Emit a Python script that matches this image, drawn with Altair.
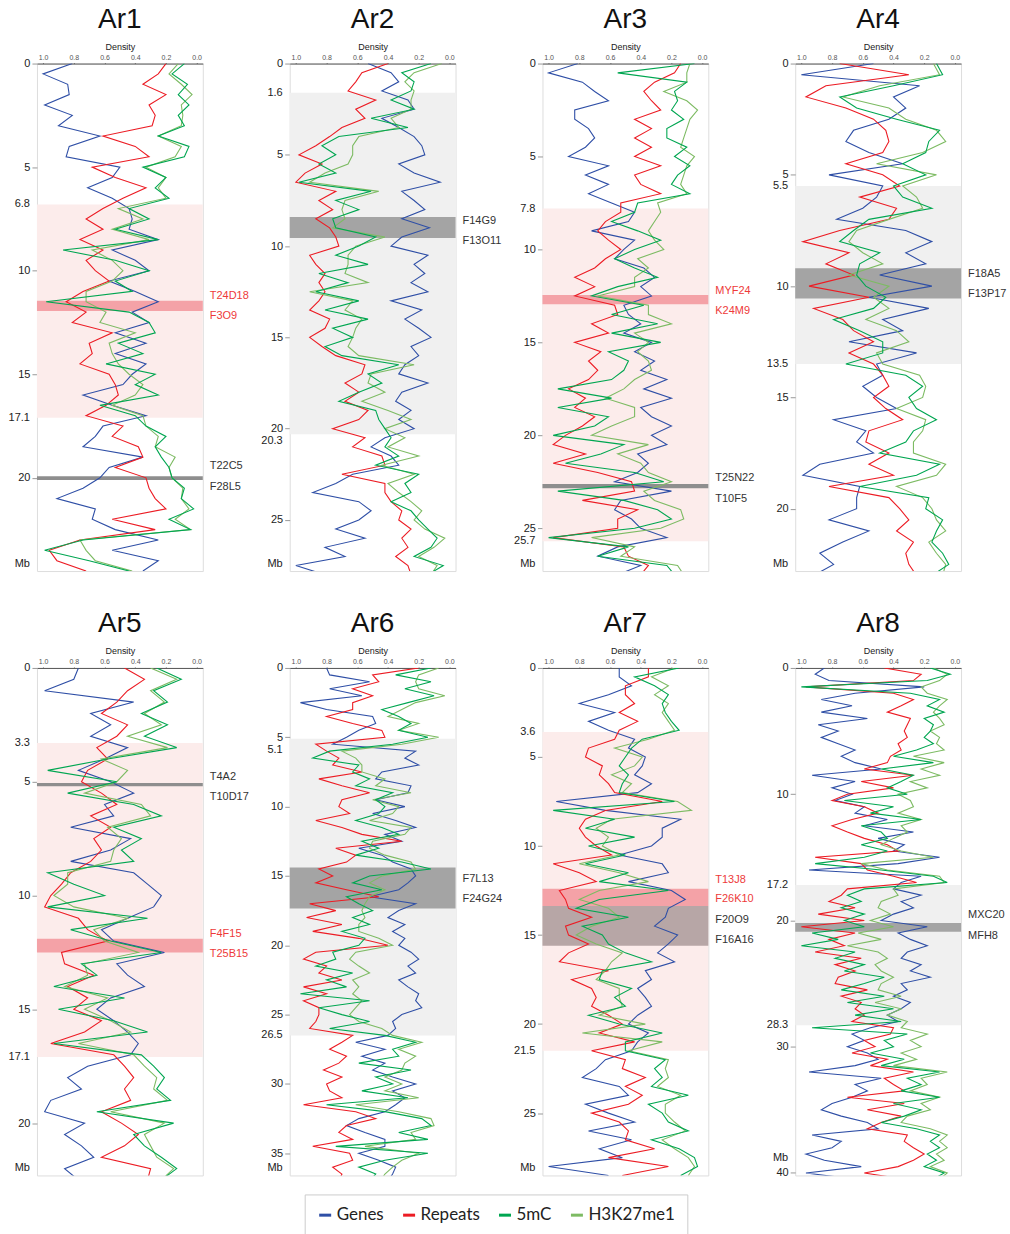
import altair as alt
import pandas as pd

SERIES = ["Genes", "Repeats", "5mC", "H3K27me1"]
COLORS = ["#2F4FA6", "#EC1C24", "#00A651", "#7DBB63"]
DRAW_ORDER = ["Genes", "Repeats", "H3K27me1", "5mC"]
STEP = 0.5  # Mb between successive density values

PINK = "#FCECEB"
LGREY = "#F0F0F0"
REDBAND = "#F4A2A7"
DGREY = "#A4A4A4"
GLINE = "#8E8E8E"
BROWN = "#B7A6A6"
RTXT = "#EE3A3A"
KTXT = "#333333"

# ---------------- Ar1 ----------------
G1 = [0.81,1.0,0.84,0.83,0.99,0.81,0.90,0.63,0.83,0.85, 0.50,0.55,0.71,0.55,0.44,0.42,0.44,0.25,0.55,0.40,
      0.31,0.57,0.40,0.25,0.42,0.31,0.53,0.33,0.53,0.33, 0.42,0.48,0.74,0.55,0.33,0.61,0.66,0.74,0.35,0.57,
      0.63,0.74,0.91,0.66,0.68,0.53,0.25,0.55,0.25,0.35]
R1 = [0.20,0.25,0.35,0.20,0.31,0.27,0.29,0.61,0.40,0.31, 0.68,0.53,0.33,0.48,0.61,0.72,0.61,0.76,0.61,0.72,
      0.66,0.57,0.74,0.85,0.72,0.81,0.55,0.70,0.68,0.76, 0.57,0.53,0.51,0.59,0.72,0.48,0.55,0.38,0.35,0.53,
      0.33,0.31,0.27,0.20,0.55,0.27,0.76,0.96,0.91,0.72]
C1 = [0.08,0.16,0.06,0.12,0.05,0.12,0.08,0.25,0.05,0.08, 0.35,0.20,0.27,0.18,0.44,0.31,0.53,0.25,0.87,0.53,
      0.31,0.53,0.42,0.98,0.44,0.31,0.27,0.51,0.35,0.59, 0.27,0.40,0.25,0.63,0.40,0.33,0.20,0.27,0.23,0.18,
      0.16,0.08,0.10,0.02,0.18,0.04,0.74,0.99,0.70,0.44]
K1 = [0.12,0.18,0.10,0.03,0.10,0.09,0.10,0.25,0.10,0.14, 0.33,0.20,0.25,0.20,0.51,0.35,0.55,0.31,0.68,0.55,
      0.48,0.55,0.72,0.72,0.59,0.63,0.40,0.57,0.55,0.51, 0.44,0.35,0.40,0.55,0.35,0.33,0.25,0.27,0.14,0.18,
      0.16,0.09,0.10,0.05,0.14,0.04,0.76,0.72,0.66,0.42]

# ---------------- Ar2 ----------------
G2 = [0.53,0.38,0.33,0.44,0.27,0.23,0.44,0.33,0.23,0.18, 0.16,0.33,0.23,0.06,0.31,0.23,0.16,0.31,0.13,0.31,
      0.38,0.14,0.23,0.16,0.25,0.14,0.38,0.18,0.29,0.20, 0.12,0.25,0.20,0.29,0.33,0.14,0.31,0.35,0.25,0.33,
      0.23,0.42,0.51,0.38,0.33,0.63,0.74,0.89,0.59,0.51, 0.59,0.74,0.55,0.81,0.68,1.0,0.81]
R2 = [0.40,0.57,0.61,0.66,0.48,0.61,0.55,0.70,0.78,0.87, 0.98,0.83,0.94,1.0,0.74,0.85,0.76,0.87,0.78,0.74,
      0.72,0.91,0.87,0.81,0.85,0.81,0.85,0.91,0.78,0.81, 0.91,0.83,0.74,0.55,0.57,0.68,0.59,0.68,0.53,0.59,
      0.76,0.55,0.63,0.44,0.42,0.70,0.42,0.42,0.38,0.31, 0.33,0.25,0.31,0.27,0.35,0.27,0.25]
C2 = [0.12,0.31,0.23,0.25,0.38,0.23,0.51,0.27,0.72,0.83, 0.74,0.85,0.74,0.98,0.51,0.74,0.59,0.76,0.74,0.48,
      0.59,0.74,0.53,0.85,0.66,0.87,0.59,0.81,0.53,0.76, 0.63,0.81,0.70,0.33,0.53,0.44,0.59,0.72,0.48,0.46,
      0.42,0.38,0.42,0.33,0.48,0.20,0.29,0.25,0.38,0.25, 0.20,0.14,0.08,0.12,0.23,0.04,0.14]
K2 = [0.05,0.23,0.29,0.23,0.25,0.25,0.38,0.33,0.59,0.63, 0.63,0.66,0.81,0.91,0.46,0.68,0.70,0.68,0.76,0.42,
      0.61,0.66,0.66,0.68,0.53,0.91,0.63,0.68,0.57,0.61, 0.63,0.66,0.59,0.23,0.51,0.53,0.42,0.57,0.40,0.25,
      0.42,0.29,0.40,0.20,0.44,0.23,0.40,0.33,0.25,0.18, 0.23,0.16,0.03,0.10,0.20,0.08,0.12]

# ---------------- Ar3 ----------------
G3 = [0.81,1.0,0.78,0.70,0.61,0.83,0.83,0.74,0.70,0.76, 0.87,0.61,0.76,0.61,0.74,0.59,0.44,0.48,0.72,0.44,
      0.51,0.57,0.38,0.31,0.40,0.33,0.51,0.48,0.40,0.51, 0.33,0.44,0.31,0.40,0.23,0.38,0.20,0.40,0.33,0.20,
      0.33,0.23,0.42,0.35,0.42,0.57,0.20,0.53,0.57,0.46, 0.40,0.23,0.55,0.68,0.40,0.55]
R3 = [0.14,0.18,0.31,0.38,0.33,0.27,0.44,0.33,0.44,0.33, 0.44,0.27,0.44,0.40,0.27,0.53,0.53,0.63,0.68,0.61,
      0.53,0.63,0.70,0.83,0.70,0.83,0.57,0.55,0.72,0.61, 0.83,0.66,0.74,0.68,0.74,0.87,0.76,0.83,0.70,0.78,
      0.89,0.97,0.76,0.97,0.68,0.46,0.44,0.78,0.42,0.55, 0.55,0.97,0.51,0.48,0.35,0.40]
C3 = [0.05,0.55,0.10,0.18,0.16,0.20,0.12,0.23,0.23,0.10, 0.18,0.08,0.16,0.20,0.08,0.42,0.44,0.59,0.42,0.27,
      0.44,0.57,0.44,0.29,0.55,0.72,0.38,0.59,0.29,0.59, 0.27,0.61,0.48,0.51,0.59,0.94,0.59,0.94,0.61,0.70,
      0.97,0.51,0.66,0.89,0.44,0.25,0.94,0.51,0.29,0.20, 0.44,1.0,0.48,0.68,0.23,0.18]
K3 = [0.08,0.10,0.10,0.25,0.10,0.03,0.08,0.10,0.12,0.14, 0.05,0.10,0.12,0.14,0.10,0.29,0.27,0.31,0.35,0.31,
      0.25,0.42,0.35,0.44,0.44,0.68,0.35,0.35,0.20,0.44, 0.35,0.42,0.35,0.33,0.44,0.51,0.63,0.44,0.44,0.59,
      0.72,0.35,0.55,0.40,0.35,0.20,0.38,0.31,0.14,0.12, 0.27,0.72,0.44,0.53,0.16,0.12]

# ---------------- Ar4 ----------------
G4 = [0.53,1.0,0.23,0.40,0.32,0.43,0.66,0.71,0.56,0.34, 0.82,0.47,0.51,0.60,0.77,0.32,0.15,0.32,0.19,0.49,
      0.15,0.56,0.17,0.47,0.34,0.69,0.25,0.51,0.47,0.60, 0.51,0.38,0.79,0.58,0.64,0.53,0.88,0.99,0.62,0.64,
      0.64,0.82,0.56,0.73,0.88,0.79,0.92]
R4 = [0.75,0.30,0.84,0.97,0.71,0.53,0.45,0.43,0.47,0.71, 0.47,0.36,0.62,0.38,0.43,0.75,0.99,0.69,0.84,0.66,
      0.95,0.56,0.92,0.73,0.66,0.53,0.69,0.53,0.47,0.43, 0.53,0.45,0.34,0.56,0.58,0.43,0.56,0.40,0.82,0.43,
      0.36,0.30,0.38,0.27,0.32,0.30,0.25]
C4 = [0.12,0.08,0.40,0.75,0.64,0.38,0.10,0.17,0.19,0.34, 0.19,0.40,0.34,0.15,0.56,0.66,0.75,0.49,0.62,0.64,
      0.58,0.45,0.53,0.79,0.62,0.47,0.47,0.71,0.32,0.21, 0.30,0.25,0.12,0.27,0.32,0.49,0.10,0.25,0.62,0.17,
      0.19,0.08,0.12,0.15,0.08,0.04,0.15]
K4 = [0.14,0.10,0.49,0.73,0.43,0.32,0.12,0.06,0.21,0.51, 0.12,0.34,0.25,0.21,0.43,0.64,0.69,0.60,0.47,0.69,
      0.43,0.53,0.43,0.58,0.38,0.30,0.51,0.47,0.23,0.19, 0.21,0.38,0.19,0.21,0.27,0.27,0.06,0.12,0.38,0.21,
      0.15,0.12,0.06,0.17,0.12,0.06,0.08]

# ---------------- Ar5 ----------------
G5 = [0.77,0.80,0.99,0.41,0.69,0.56,0.69,0.45,0.60,0.77, 0.56,0.41,0.60,0.54,0.82,0.43,0.56,0.82,0.41,0.32,
      0.23,0.28,0.45,0.62,0.54,0.21,0.52,0.45,0.34,0.56, 0.65,0.54,0.45,0.38,0.43,0.71,0.84,0.75,0.95,0.99,
      0.73,0.86,0.75,0.67,0.86,0.77]
R5 = [0.47,0.34,0.45,0.52,0.62,0.45,0.52,0.65,0.58,0.71, 0.75,0.62,0.52,0.69,0.56,0.67,0.62,0.69,0.82,0.88,
      0.95,0.99,0.77,0.71,0.58,0.88,0.86,0.67,0.84,0.71, 0.80,0.62,0.73,0.95,0.54,0.47,0.41,0.47,0.43,0.62,
      0.49,0.38,0.47,0.62,0.30,0.32]
C5 = [0.26,0.10,0.28,0.19,0.36,0.19,0.34,0.13,0.58,0.97, 0.52,0.84,0.41,0.23,0.54,0.36,0.49,0.41,0.97,0.80,
      0.60,0.97,0.32,0.82,0.56,0.23,0.75,0.65,0.93,0.47, 0.90,0.54,0.32,0.93,0.36,0.28,0.21,0.26,0.17,0.65,
      0.15,0.41,0.34,0.23,0.13,0.23]
K5 = [0.30,0.13,0.30,0.21,0.34,0.23,0.45,0.19,0.62,0.45, 0.52,0.73,0.36,0.30,0.58,0.49,0.54,0.56,0.84,0.84,
      0.93,0.80,0.45,0.67,0.60,0.38,0.73,0.71,0.86,0.58, 0.73,0.56,0.43,0.77,0.41,0.34,0.26,0.28,0.19,0.56,
      0.21,0.34,0.30,0.26,0.15,0.23]

# ---------------- Ar6 ----------------
G6 = [0.80,0.78,0.52,0.78,0.57,0.97,0.80,0.50,0.48,0.59, 0.67,0.76,0.22,0.29,0.20,0.44,0.48,0.25,0.27,0.48,
      0.29,0.50,0.35,0.22,0.42,0.31,0.59,0.44,0.37,0.25, 0.22,0.27,0.33,0.52,0.22,0.33,0.40,0.29,0.37,0.29,
      0.33,0.25,0.20,0.27,0.22,0.33,0.27,0.20,0.22,0.18, 0.31,0.37,0.35,0.40,0.61,0.42,0.57,0.42,0.50,0.37,
      0.22,0.37,0.29,0.35,0.42,0.59,0.67,0.55,0.42,0.42, 0.59,0.46,0.35,0.37,0.40]
R6 = [0.20,0.50,0.46,0.63,0.50,0.63,0.63,0.80,0.63,0.44, 0.42,0.87,0.80,0.72,0.76,0.57,0.85,0.70,0.52,0.70,
      0.72,0.65,0.87,0.70,0.57,0.31,0.74,0.61,0.67,0.85, 0.76,0.87,0.67,0.46,0.91,0.74,0.93,0.70,0.89,0.59,
      0.40,0.87,0.95,0.80,0.85,0.70,0.95,0.80,0.95,0.85, 0.85,0.87,0.91,0.63,0.70,0.78,0.67,0.72,0.82,0.70,
      0.80,0.78,0.70,0.95,0.61,0.48,0.67,0.72,0.63,0.89, 0.65,0.63,0.76,0.70,0.72]
C6 = [0.12,0.35,0.12,0.29,0.10,0.27,0.44,0.33,0.25,0.33, 0.14,0.37,0.78,0.89,0.59,0.63,0.52,0.61,0.37,0.48,
      0.42,0.46,0.61,0.44,0.33,0.57,0.46,0.61,0.31,0.12, 0.52,0.63,0.44,0.67,0.59,0.50,0.63,0.52,0.70,0.55,
      0.59,0.76,0.74,0.87,0.63,0.80,0.67,0.97,0.52,0.85, 0.70,0.52,0.78,0.42,0.22,0.37,0.33,0.59,0.25,0.48,
      0.37,0.57,0.27,0.80,0.42,0.18,0.12,0.33,0.14,0.74, 0.14,0.42,0.59,0.48,0.52]
K6 = [0.07,0.20,0.22,0.20,0.03,0.22,0.31,0.40,0.20,0.33, 0.07,0.31,0.70,0.61,0.57,0.57,0.42,0.48,0.25,0.50,
      0.33,0.37,0.52,0.25,0.29,0.50,0.52,0.42,0.25,0.22, 0.44,0.52,0.42,0.52,0.55,0.57,0.55,0.59,0.59,0.46,
      0.37,0.61,0.65,0.59,0.52,0.63,0.59,0.63,0.57,0.61, 0.65,0.59,0.44,0.37,0.18,0.33,0.22,0.29,0.31,0.42,
      0.31,0.42,0.20,0.61,0.33,0.12,0.10,0.25,0.22,0.55, 0.20,0.31,0.37,0.42,0.45]

# ---------------- Ar7 ----------------
G7 = [0.54,0.54,0.46,0.61,0.80,0.57,0.74,0.61,0.44,0.48, 0.37,0.39,0.44,0.33,0.42,0.95,0.63,0.14,0.26,0.26,
      0.33,0.54,0.26,0.22,0.48,0.20,0.11,0.22,0.24,0.31, 0.16,0.22,0.29,0.18,0.37,0.33,0.42,0.37,0.33,0.42,
      0.48,0.35,0.42,0.46,0.63,0.69,0.78,0.54,0.48,0.76, 0.61,0.44,0.74,0.46,0.67,0.52,1.0,0.61]
R7 = [0.35,0.35,0.50,0.50,0.44,0.54,0.42,0.54,0.57,0.74, 0.76,0.65,0.67,0.61,0.57,0.26,0.63,0.76,0.80,0.76,
      0.69,0.59,0.97,0.80,0.69,0.93,0.89,0.87,0.72,0.89, 0.87,0.74,0.87,0.93,0.61,0.85,0.72,0.69,0.72,0.61,
      0.52,0.67,0.44,0.72,0.50,0.52,0.37,0.50,0.39,0.48, 0.72,0.54,0.48,0.50,0.31,0.61,0.22,0.52]
C7 = [0.15,0.44,0.31,0.22,0.26,0.24,0.20,0.15,0.39,0.46, 0.50,0.54,0.48,0.52,0.54,0.18,0.97,0.57,0.76,0.44,
      0.74,0.50,0.76,0.48,0.67,0.22,0.67,0.82,0.48,0.78, 0.65,0.61,0.50,0.33,0.65,0.67,0.46,0.57,0.50,0.74,
      0.54,0.26,0.50,0.50,0.24,0.31,0.26,0.33,0.09,0.35, 0.26,0.22,0.09,0.33,0.15,0.05,0.03,0.14]
K7 = [0.18,0.33,0.22,0.31,0.22,0.26,0.22,0.18,0.35,0.57, 0.39,0.44,0.59,0.46,0.52,0.16,0.07,0.59,0.69,0.61,
      0.65,0.54,0.80,0.54,0.35,0.67,0.80,0.61,0.54,0.72, 0.82,0.69,0.52,0.59,0.63,0.69,0.54,0.54,0.52,0.67,
      0.37,0.78,0.26,0.48,0.22,0.24,0.22,0.29,0.14,0.24, 0.24,0.18,0.11,0.26,0.18,0.09,0.05,0.09]

# ---------------- Ar8 ----------------
G8 = [0.85,0.91,0.82,0.20,0.65,0.87,0.67,0.87,0.57,0.89, 0.76,0.87,0.76,0.65,0.74,0.65,0.48,0.93,0.65,0.80,
      0.67,0.78,0.59,0.65,0.44,0.59,0.27,0.50,0.33,0.40, 0.10,0.37,0.95,0.22,0.35,0.40,0.22,0.35,0.27,0.40,
      0.48,0.18,0.37,0.29,0.18,0.31,0.35,0.22,0.29,0.16, 0.35,0.31,0.40,0.29,0.35,0.44,0.37,0.55,0.67,0.59,
      0.70,0.57,0.50,0.65,0.95,0.48,0.65,0.57,0.67,0.80, 0.87,0.74,0.57,0.50,0.93,0.74,0.80,0.97,0.85,0.61,
      0.97,0.65]
R8 = [0.46,0.22,0.27,0.97,0.40,0.27,0.35,0.44,0.29,0.31, 0.33,0.31,0.37,0.35,0.42,0.44,0.59,0.27,0.61,0.40,
      0.70,0.80,0.59,0.50,0.67,0.80,0.70,0.59,0.44,0.37, 0.91,0.61,0.57,0.40,0.25,0.70,0.74,0.82,0.65,0.89,
      0.59,1.0,0.65,0.82,0.72,0.91,0.61,0.78,0.65,0.76, 0.78,0.57,0.74,0.61,0.65,0.59,0.67,0.40,0.42,0.59,
      0.52,0.67,0.44,0.55,0.27,0.46,0.40,0.33,0.70,0.33, 0.57,0.35,0.48,0.57,0.31,0.33,0.27,0.20,0.27,0.37,
      0.59,0.33]
C8 = [0.16,0.03,0.18,1.0,0.29,0.10,0.18,0.07,0.20,0.14, 0.16,0.20,0.14,0.25,0.40,0.14,0.48,0.27,0.35,0.44,
      0.31,0.72,0.40,0.55,0.22,0.61,0.48,0.44,0.61,0.44, 0.59,0.91,0.48,0.14,0.05,0.59,0.70,0.61,0.74,0.59,
      0.72,0.59,0.93,0.76,1.0,0.65,0.78,0.59,0.72,0.46, 0.59,0.74,0.46,0.70,0.40,0.65,0.35,0.93,0.31,0.46,
      0.40,0.55,0.33,0.48,0.10,0.31,0.22,0.35,0.10,0.40, 0.22,0.33,0.48,0.25,0.10,0.16,0.10,0.18,0.12,0.20,
      0.07,0.14]
K8 = [0.14,0.05,0.10,0.22,0.18,0.05,0.10,0.14,0.10,0.07, 0.16,0.10,0.12,0.07,0.27,0.07,0.22,0.10,0.29,0.18,
      0.37,0.29,0.27,0.37,0.22,0.35,0.31,0.40,0.48,0.35, 0.14,0.61,0.44,0.10,0.07,0.40,0.37,0.48,0.50,0.42,
      0.55,0.40,0.63,0.48,0.70,0.50,0.44,0.52,0.48,0.40, 0.48,0.50,0.35,0.52,0.35,0.44,0.31,0.35,0.18,0.29,
      0.22,0.35,0.25,0.40,0.05,0.22,0.18,0.29,0.10,0.22, 0.16,0.31,0.35,0.16,0.05,0.10,0.05,0.12,0.07,0.16,
      0.05,0.10]

# chromosome lengths (Mb), axis ticks, boundary labels (value, pixel nudge)
NAMES = ["Ar1", "Ar2", "Ar3", "Ar4", "Ar5", "Ar6", "Ar7", "Ar8"]
YMAX = [24.5, 27.8, 27.3, 22.8, 22.3, 36.6, 28.5, 40.2]
MAJORS = [[0, 5, 10, 15, 20], [0, 5, 10, 15, 20, 25], [0, 5, 10, 15, 20, 25], [0, 5, 10, 15, 20],
          [0, 5, 10, 15, 20], [0, 5, 10, 15, 20, 25, 30, 35], [0, 5, 10, 15, 20, 25], [0, 10, 20, 30, 40]]
BOUNDS = [[(6.8, 0), (17.1, 0)], [(1.6, 0), (20.3, 7)], [(7.8, 0), (25.7, 0)], [(5.5, 0), (13.5, 0)],
          [(3.3, 0), (17.1, 0)], [(5.1, 11), (26.5, 0)], [(3.6, 0), (21.5, 0)], [(17.2, 0), (28.3, 0)]]
MB_OFF = [7, 7, 7, 7, 7, 7, 7, 17]
REGIONS = [
    [(6.8, 17.1, PINK), (11.45, 11.95, REDBAND), (19.92, 20.1, GLINE)],
    [(1.6, 20.3, LGREY), (8.4, 9.55, DGREY)],
    [(7.8, 25.7, PINK), (12.45, 12.95, REDBAND), (22.62, 22.85, GLINE)],
    [(5.5, 13.5, LGREY), (9.2, 10.55, DGREY)],
    [(3.3, 17.1, PINK), (5.06, 5.2, GLINE), (11.9, 12.5, REDBAND)],
    [(5.1, 26.5, LGREY), (14.4, 17.35, DGREY)],
    [(3.6, 21.5, PINK), (12.4, 13.37, REDBAND), (13.37, 15.6, BROWN)],
    [(17.2, 28.3, LGREY), (20.2, 20.9, DGREY)],
]
BACS = [
    [(11.2, "T24D18", RTXT), (12.2, "F3O9", RTXT), (19.45, "T22C5", KTXT), (20.45, "F28L5", KTXT)],
    [(8.6, "F14G9", KTXT), (9.7, "F13O11", KTXT)],
    [(12.25, "MYF24", RTXT), (13.3, "K24M9", RTXT), (22.3, "T25N22", KTXT), (23.4, "T10F5", KTXT)],
    [(9.45, "F18A5", KTXT), (10.35, "F13P17", KTXT)],
    [(4.8, "T4A2", KTXT), (5.65, "T10D17", KTXT), (11.7, "F4F15", RTXT), (12.55, "T25B15", RTXT)],
    [(15.2, "F7L13", KTXT), (16.65, "F24G24", KTXT)],
    [(11.9, "T13J8", RTXT), (13.0, "F26K10", RTXT), (14.15, "F20O9", KTXT), (15.3, "F16A16", KTXT)],
    [(19.6, "MXC20", KTXT), (21.2, "MFH8", KTXT)],
]
TRACKS = [(G1, R1, C1, K1), (G2, R2, C2, K2), (G3, R3, C3, K3), (G4, R4, C4, K4),
          (G5, R5, C5, K5), (G6, R6, C6, K6), (G7, R7, C7, K7), (G8, R8, C8, K8)]

W, H = 166, 508
FONT = "Liberation Sans"


def fmt(v):
    return str(int(v)) if float(v).is_integer() else f"{v:.1f}"


def panel(i):
    rows = []
    for s in DRAW_ORDER:
        vals = TRACKS[i][SERIES.index(s)]
        for j, v in enumerate(vals):
            rows.append({"series": s, "mb": j * STEP, "val": v})
    df = pd.DataFrame(rows)
    ys = alt.Scale(domain=[0, YMAX[i]], reverse=True, nice=False, zero=False)
    xs = alt.Scale(domain=[-0.04, 1.04], reverse=True, nice=False, zero=False)
    yaxis = alt.Axis(values=MAJORS[i], format="d", title=None,
                     grid=False, domain=False, tickSize=5, tickColor="#999", labelFontSize=11,
                     labelPadding=2, labelColor="#222", labelOverlap=False, labelFont=FONT)

    reg = pd.DataFrame(REGIONS[i], columns=["start", "end", "col"])
    rects = alt.Chart(reg).mark_rect().encode(
        y=alt.Y("start:Q", scale=ys, axis=yaxis, title=None), y2="end:Q",
        x=alt.value(0), x2=alt.value(W),
        fill=alt.Fill("col:N", scale=None))

    lines = alt.Chart(df).mark_line(strokeWidth=1.1, clip=True).encode(
        x=alt.X("val:Q", scale=xs, axis=alt.Axis(
            orient="top", values=[0, 0.2, 0.4, 0.6, 0.8, 1.0], format=".1f", title="Density",
            labelFontSize=7, titleFontSize=9, titleFontWeight="normal", tickSize=1,
            labelPadding=2, titlePadding=2, domainColor="#555", tickColor="#777",
            labelColor="#555", titleColor="#222", grid=False, labelFlush=False,
            labelFont=FONT, titleFont=FONT)),
        y=alt.Y("mb:Q", scale=ys, axis=yaxis, title=None),
        color=alt.Color("series:N", scale=alt.Scale(domain=SERIES, range=COLORS),
                        legend=alt.Legend(orient="none", legendX=268, legendY=1132, direction="horizontal",
                                          title=None, symbolType="stroke", symbolSize=144,
                                          symbolStrokeWidth=3, labelFontSize=17, labelFont="Lato",
                                          labelColor="#222", columnPadding=12, labelOffset=3,
                                          padding=12, strokeColor="#cccccc", fillColor="white")),
        order=alt.Order("mb:Q"),
        detail="series:N")

    lab = pd.DataFrame(BACS[i], columns=["mb", "text", "col"])
    bacs = alt.Chart(lab).mark_text(align="left", baseline="middle", fontSize=11, font=FONT).encode(
        x=alt.value(W + 7), y=alt.Y("mb:Q", scale=ys, axis=yaxis, title=None), text="text:N",
        fill=alt.Fill("col:N", scale=None))

    layers = [rects, lines, bacs]
    for dy in sorted(set(d for _, d in BOUNDS[i])):
        bdf = pd.DataFrame([{"mb": b, "text": fmt(b)} for b, d in BOUNDS[i] if d == dy])
        layers.append(alt.Chart(bdf).mark_text(align="right", baseline="middle", fontSize=11,
                                               font=FONT, color="#222", dy=dy).encode(
            x=alt.value(-7), y=alt.Y("mb:Q", scale=ys, axis=yaxis, title=None), text="text:N"))
    mbdf = pd.DataFrame({"t": ["Mb"]})
    layers.append(alt.Chart(mbdf).mark_text(align="right", baseline="middle", fontSize=11,
                                            font=FONT, color="#222").encode(
        x=alt.value(-7), y=alt.value(H - MB_OFF[i]), text="t:N"))

    return alt.layer(*layers).properties(
        width=W, height=H,
        title=alt.TitleParams(NAMES[i], fontSize=28, fontWeight="normal", font=FONT,
                              color="#111", anchor="middle", offset=9))


chart = alt.concat(*[panel(i) for i in range(8)], columns=4,
                   spacing={"row": 97, "column": 87}, bounds="flush").resolve_scale(
    x="independent", y="independent").properties(
    padding={"left": 8, "top": 4, "right": 2, "bottom": 2}).configure_view(
    stroke="#9d9d9d", strokeWidth=1).configure(font=FONT)

chart.save("out.html", embed_options={"renderer": "svg", "actions": False})
